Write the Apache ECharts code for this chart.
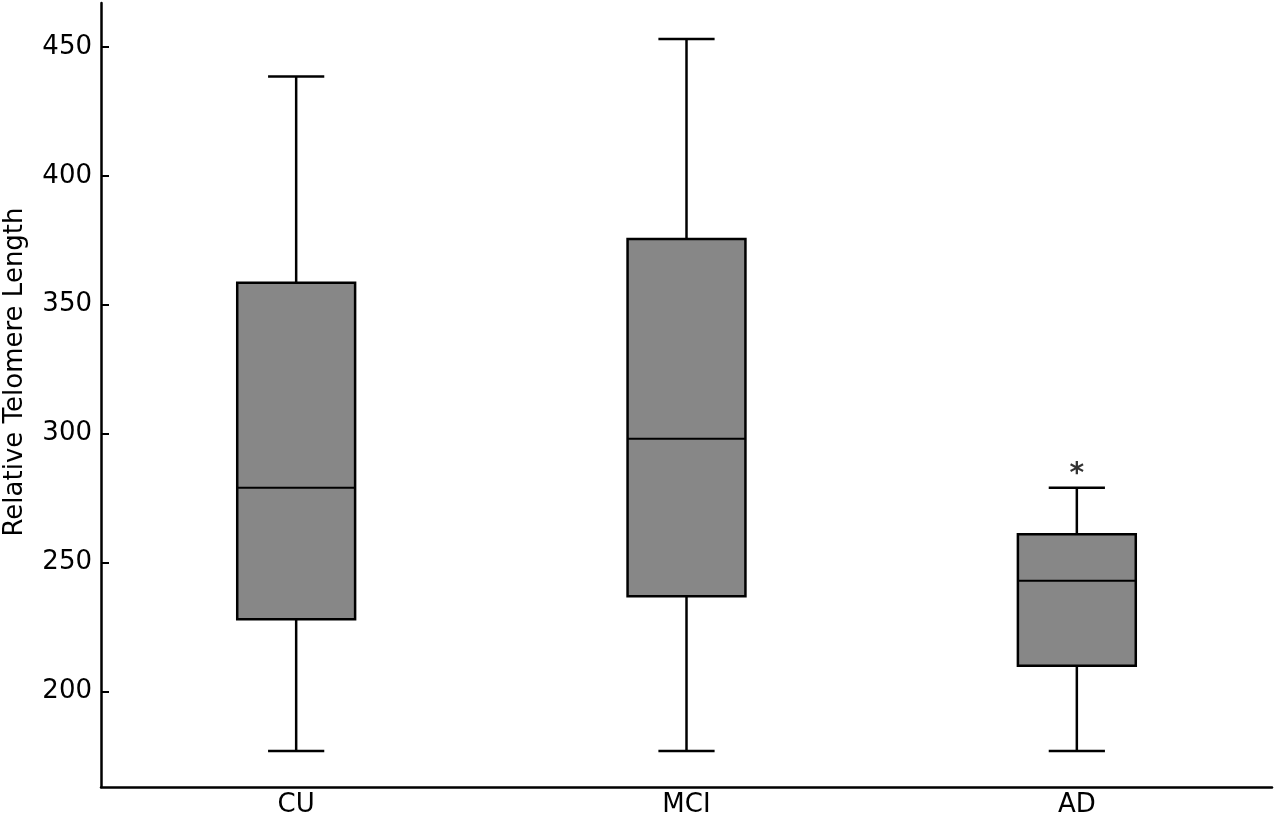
<!DOCTYPE html>
<html>
<head>
    <meta charset="utf-8">
    <title>Relative Telomere Length</title>
    <script src="https://cdn.jsdelivr.net/npm/echarts@6/dist/echarts.min.js"></script>
    <style>
        html, body { margin: 0; padding: 0; background: #fff; }
    </style>
</head>
<body>
    <div id="main" style="width: 1275px;height:819px;"></div>

<script>
// values
var categories = ['CU', 'MCI', 'AD'];
var lowWhisker = [177, 177, 177];
var q1 = [228, 237, 210];
var median = [279, 298, 243];
var q3 = [358.5, 375.5, 261];
var highWhisker = [438.5, 453, 279];
var yTicks = [200, 250, 300, 350, 400, 450];
var yTitle = 'Relative Telomere Length';
// significance mark above AD
var marks = [['AD', 284, '*']];

var boxRows = categories.map(function (c, i) {
    return [i, lowWhisker[i], q1[i], median[i], q3[i], highWhisker[i]];
});

function renderBox(params, api) {
    var i = api.value(0);
    var low = api.coord([i, api.value(1)]);
    var lo = api.coord([i, api.value(2)]);
    var mid = api.coord([i, api.value(3)]);
    var hi = api.coord([i, api.value(4)]);
    var top = api.coord([i, api.value(5)]);
    var band = api.size([1, 0])[0];
    var half = band * 0.151;
    var cap = band * 0.072;
    var cx = low[0];
    var line = { stroke: '#000', lineWidth: 2.5 };
    return {
        type: 'group',
        children: [
            { type: 'line', shape: { x1: cx, y1: top[1], x2: cx, y2: hi[1] }, style: line },
            { type: 'line', shape: { x1: cx, y1: lo[1], x2: cx, y2: low[1] }, style: line },
            { type: 'line', shape: { x1: cx - cap, y1: top[1], x2: cx + cap, y2: top[1] }, style: line },
            { type: 'line', shape: { x1: cx - cap, y1: low[1], x2: cx + cap, y2: low[1] }, style: line },
            { type: 'rect', shape: { x: cx - half, y: hi[1], width: half * 2, height: lo[1] - hi[1] },
              style: { fill: '#878787', stroke: '#000', lineWidth: 2.5 } },
            { type: 'line', shape: { x1: cx - half, y1: mid[1], x2: cx + half, y2: mid[1] },
              style: { stroke: '#000', lineWidth: 2 } }
        ]
    };
}

var myChart = echarts.init(document.getElementById('main'));
myChart.setOption({
    animation: false,
    textStyle: { fontFamily: 'DejaVu Sans' },
    grid: { left: 101, right: 3, top: 3, bottom: 32, outerBoundsMode: 'none' },
    // y title sits a bit above the axis middle in the original
    graphic: [{
        type: 'text',
        x: 15,
        y: 372,
        rotation: Math.PI / 2,
        style: {
            text: yTitle,
            fill: '#000',
            font: '26px "DejaVu Sans"',
            textAlign: 'center',
            textVerticalAlign: 'middle'
        }
    }],
    xAxis: {
        type: 'category',
        data: categories,
        axisLine: { lineStyle: { color: '#000', width: 2.5 } },
        axisTick: { show: false },
        axisLabel: { color: '#000', fontSize: 26, margin: 5 },
        splitLine: { show: false }
    },
    yAxis: {
        type: 'value',
        min: 163,
        max: 467,
        axisLine: { show: true, lineStyle: { color: '#000', width: 2.5 } },
        axisTick: { show: true, inside: true, length: 8, customValues: yTicks,
                    lineStyle: { color: '#000', width: 2 } },
        axisLabel: { color: '#000', fontSize: 26, margin: 9, customValues: yTicks },
        splitLine: { show: false }
    },
    series: [
        {
            type: 'custom',
            renderItem: renderBox,
            encode: { x: 0, y: [1, 2, 3, 4, 5] },
            data: boxRows
        },
        {
            type: 'scatter',
            symbolSize: 0,
            label: {
                show: true,
                position: 'inside',
                formatter: function (p) { return p.data[2]; },
                color: '#000',
                fontSize: 28,
                fontWeight: 'bold'
            },
            data: marks
        }
    ]
});
</script>

</body>
</html>
